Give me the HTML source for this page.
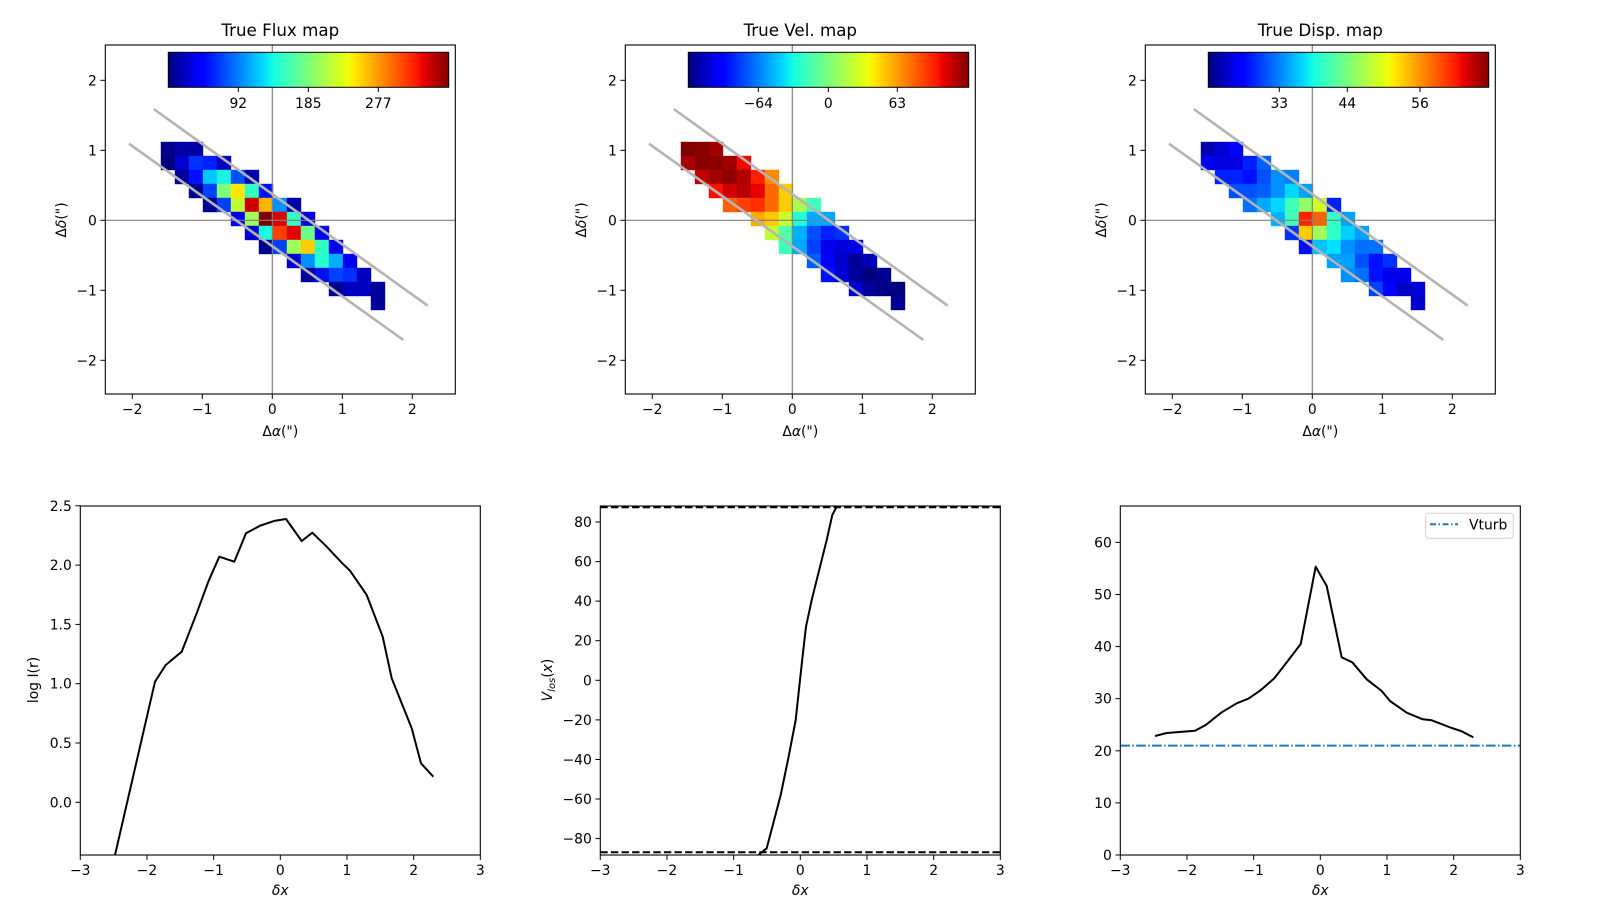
<!DOCTYPE html>
<html><head><meta charset="utf-8">
<style>
html,body{margin:0;padding:0;background:#fff;}
svg{display:block;font-family:"DejaVu Sans","Liberation Sans",sans-serif;}
</style></head>
<body>
<svg id="s" width="1600" height="900" viewBox="0 0 1600 900" xmlns="http://www.w3.org/2000/svg">
<defs>
<linearGradient id="jet" x1="0" x2="1" y1="0" y2="0">
<stop offset="0" stop-color="#00007f"/><stop offset="0.11" stop-color="#0000ff"/><stop offset="0.125" stop-color="#0000ff"/>
<stop offset="0.34" stop-color="#00dbff"/><stop offset="0.375" stop-color="#16ffe1"/><stop offset="0.64" stop-color="#eeff08"/>
<stop offset="0.66" stop-color="#ffec00"/><stop offset="0.89" stop-color="#ff1300"/><stop offset="0.91" stop-color="#e80000"/>
<stop offset="1" stop-color="#800000"/>
</linearGradient>
</defs>
<g id="maps"></g>
<g font-size="16.7" text-anchor="middle" fill="#000">
<text x="280.3" y="36">True Flux map</text>
<text x="800.3" y="36">True Vel. map</text>
<text x="1320.3" y="36">True Disp. map</text>
</g>
<g font-size="13.9" fill="#000" text-anchor="middle">
<text x="238.3" y="108">92</text><text x="308.3" y="108">185</text><text x="378.3" y="108">277</text>
<text x="758.3" y="108">−64</text><text x="828.3" y="108">0</text><text x="897.3" y="108">63</text>
<text x="1279.3" y="108">33</text><text x="1347.3" y="108">44</text><text x="1420" y="108">56</text>
</g>
<g font-size="13.9" fill="#000" text-anchor="middle">
<text x="280.3" y="436">Δ<tspan font-style="italic">α</tspan>(")</text><text x="800.3" y="436">Δ<tspan font-style="italic">α</tspan>(")</text><text x="1320.3" y="436">Δ<tspan font-style="italic">α</tspan>(")</text>
<text transform="translate(66,220) rotate(-90)">Δ<tspan font-style="italic">δ</tspan>(")</text>
<text transform="translate(586,220) rotate(-90)">Δ<tspan font-style="italic">δ</tspan>(")</text>
<text transform="translate(1106,220) rotate(-90)">Δ<tspan font-style="italic">δ</tspan>(")</text>
<text x="280.3" y="895" font-style="italic">δx</text><text x="800.3" y="895" font-style="italic">δx</text><text x="1320.3" y="895" font-style="italic">δx</text>
<text transform="translate(38,680) rotate(-90)">log I(r)</text>
<text transform="translate(552,680) rotate(-90)"><tspan font-style="italic">V</tspan><tspan font-size="10" font-style="italic" dy="3">los</tspan><tspan dy="-3">(</tspan><tspan font-style="italic">x</tspan>)</text>
</g>
<g id="bot"></g>
<g>
<rect x="1425.7" y="513.3" width="87.6" height="25" rx="3" fill="#fff" stroke="#d0d0d0"/>
<line x1="1430" y1="524.3" x2="1458" y2="524.3" stroke="#1f77b4" stroke-width="2" stroke-dasharray="6,2.5,1.5,2.5"/>
<text x="1469" y="529.3" font-size="13.9">Vturb</text>
</g>
</svg>
<script>
(function(){
var NS="http://www.w3.org/2000/svg";
function el(p,t,a){var e=document.createElementNS(NS,t);for(var k in a)e.setAttribute(k,a[k]);p.appendChild(e);return e;}
var maps=document.getElementById('maps');
var rows=[[0,2],[0,4],[1,6],[2,7],[3,9],[5,10],[6,11],[7,12],[9,13],[10,14],[12,15],[15,15]];
var C=[
[["#00008f","#0000a8","#0000a0"],["#00007f","#0000d0","#0030ff","#0020ff","#0000c0"],["#00009a","#0010ff","#00c8ff","#1ef0e0","#0050ff","#0000b0"],["#000090","#0040ff","#7dff7a","#ffe600","#30ffc0","#0010f0"],["#000090","#0040ff","#c0ff36","#cc0000","#ffb400","#0090ff","#0000a8"],["#0000ef","#9cff5a","#800000","#dd0000","#30ffc0","#0000e0"],["#0000d0","#16ffe0","#ff4000","#e80000","#6cff8a","#0000ef"],["#00008f","#0040ff","#9cff5a","#ffcc00","#30ffc0","#0000ef"],["#0000d0","#0090ff","#26ffd0","#00b0ff","#0000ef"],["#00009a","#0010f0","#0040ff","#0030ff","#0000c0"],["#00008f","#0000c0","#0000c0","#00009a"],["#00009a"]],
[["#800000","#880000","#a00000"],["#a80000","#880000","#8c0000","#a00000","#f00800"],["#c00000","#a00000","#900000","#b00000","#ff2000","#ff8c00"],["#ff1000","#d00000","#b80000","#e80000","#ff6a00","#ffd000"],["#ff6000","#ff4000","#ff3000","#ff6a00","#ffcc00","#a8ff50","#40ffb8"],["#ffaa00","#ffc800","#c8ff30","#20ffd8","#00a8ff","#00a8ff"],["#c0ff38","#50ffa8","#00b0ff","#0050ff","#0020ff","#0030ff"],["#40ffb8","#00a8ff","#0040ff","#0000ef","#0000d8","#0000e8"],["#0060ff","#0000ff","#0000c8","#000098","#0000b8"],["#0010ff","#0000d8","#000098","#00007f","#00008f"],["#0000d0","#000098","#000080","#000080"],["#00008f"]],
[["#0000b0","#0000d0","#0000ff"],["#0000f0","#0000e0","#0000e0","#0020ff","#0060ff"],["#0020ff","#0020ff","#0010ff","#0050ff","#0090ff","#0080ff"],["#0050ff","#0050ff","#0060ff","#0090ff","#00d8ff","#00a0ff"],["#0070ff","#00a8ff","#00d8ff","#40ffb8","#90ff68","#d0ff28","#0020f0"],["#00b0ff","#40ffb8","#ff2000","#ff6000","#30ffc8","#00a0ff"],["#0030ff","#ffcc00","#a0ff58","#30ffc8","#00d0ff","#00a0ff"],["#0010f0","#00c0ff","#00e0ff","#0090ff","#0070ff","#0070ff"],["#00a0ff","#00a0ff","#0050ff","#0010ff","#0030ff"],["#0090ff","#0070ff","#0010ff","#0000ef","#0000ef"],["#0040ff","#0000ff","#0000c8","#0000d0"],["#0000cc"]]
];
for(var m=0;m<3;m++){
 var o=520*m, L=105.3+o, T=45, W=350, H=349;
 var g=el(maps,'g',{});
 for(var r=0;r<rows.length;r++){for(var c=rows[r][0];c<=rows[r][1];c++){
  el(g,'rect',{x:161+o+14*(c)-0.2,y:142+14*r-0.2,width:14.4,height:14.4,fill:C[m][r][c-rows[r][0]]});}}
 el(g,'line',{x1:L,x2:L+W,y1:220.3,y2:220.3,stroke:'#808080','stroke-width':1.2});
 el(g,'line',{x1:272.3+o,x2:272.3+o,y1:T,y2:T+H,stroke:'#808080','stroke-width':1.2});
 el(g,'line',{x1:153.7+o,y1:109,x2:427.7+o,y2:305.7,stroke:'#b4b4b4','stroke-width':2.6});
 el(g,'line',{x1:129+o,y1:143.7,x2:403.3+o,y2:340,stroke:'#b4b4b4','stroke-width':2.6});
 el(g,'rect',{x:168.3+o,y:52.3,width:280.4,height:35,fill:'url(#jet)',stroke:'#000','stroke-width':1});
 el(g,'rect',{x:L,y:T,width:W,height:H,fill:'none',stroke:'#000','stroke-width':1.1});
 var cb=[[238.3,308.3,378.3],[758.3,828.3,897.3],[1279.3,1347.3,1420]][m];
 cb.forEach(function(x){el(g,'line',{x1:x,x2:x,y1:87.3,y2:92,stroke:'#000'});});
 for(var k=-2;k<=2;k++){
  var x=272.3+o+70*k, y=220.3-70*k;
  el(g,'line',{x1:x,x2:x,y1:T+H,y2:T+H+4.9,stroke:'#000'});
  el(g,'line',{x1:L-4.9,x2:L,y1:y,y2:y,stroke:'#000'});
  var s=k<0?'−'+(-k):''+k;
  var t=el(g,'text',{x:x,y:T+H+20,'font-size':13.9,'text-anchor':'middle'});t.textContent=s;
  t=el(g,'text',{x:L-8.5,y:y+5,'font-size':13.9,'text-anchor':'end'});t.textContent=s;
 }
}
var bot=document.getElementById('bot');
var yt=[[[2.5,505.8,'2.5'],[2.0,565.1,'2.0'],[1.5,624.4,'1.5'],[1.0,683.7,'1.0'],[0.5,743,'0.5'],[0,802.3,'0.0']],
 [[0,522,'80'],[0,561.6,'60'],[0,601.1,'40'],[0,640.7,'20'],[0,680.3,'0'],[0,719.9,'−20'],[0,759.5,'−40'],[0,799,'−60'],[0,838.6,'−80']],
 [[0,542.4,'60'],[0,594.5,'50'],[0,646.6,'40'],[0,698.7,'30'],[0,750.8,'20'],[0,802.9,'10'],[0,855,'0']]];
var curves=[
 [[285,1065],[405,545],[437,495],[485,455],[530,340],[565,245],[598,170],[643,185],[678,100],[720,77],[765,62],[798,57],[845,123],[877,98],[920,140],[965,188],[990,212],[1040,285],[1088,410],[1115,535],[1175,685],[1203,790],[1240,830]],
 [[655,1065],[680,1045],[700,970],[722,885],[745,775],[767,660],[780,540],[790,450],[798,380],[815,300],[840,200],[860,120],[877,45],[890,20]],
 [[285,708],[320,699],[405,692],[437,675],[485,637],[530,610],[565,596],[600,572],[643,535],[678,490],[722,432],[767,200],[800,258],[845,472],[877,487],[920,538],[965,573],[990,603],[1040,638],[1088,658],[1115,661],[1175,684],[1203,693],[1240,712]]];
for(var p=0;p<3;p++){
 var ox=20+520*p, L=80.3+520*p, T=506, W=400, H=349;
 var g=el(bot,'g',{});
 var cp=el(g,'clipPath',{id:'c'+p});el(cp,'rect',{x:L,y:T,width:W,height:H});
 var pts=curves[p].map(function(q){return (ox+q[0]/3).toFixed(1)+','+(500+q[1]/3).toFixed(1);}).join(' ');
 if(p==1){
  el(g,'line',{x1:L,x2:L+W,y1:507.3,y2:507.3,stroke:'#000','stroke-width':2,'stroke-dasharray':'7.4,3.2'});
  el(g,'line',{x1:L,x2:L+W,y1:852.3,y2:852.3,stroke:'#000','stroke-width':2,'stroke-dasharray':'7.4,3.2'});
 }
 if(p==2){el(g,'line',{x1:L,x2:L+W,y1:745.6,y2:745.6,stroke:'#1f77b4','stroke-width':2,'stroke-dasharray':'9.6,2.4,1.5,2.4'});}
 el(g,'polyline',{points:pts,fill:'none',stroke:'#000','stroke-width':2,'clip-path':'url(#c'+p+')','stroke-linejoin':'round'});
 el(g,'rect',{x:L,y:T,width:W,height:H,fill:'none',stroke:'#000','stroke-width':1.1});
 for(var k=-3;k<=3;k++){
  var x=L+66.67*(k+3);
  el(g,'line',{x1:x,x2:x,y1:T+H,y2:T+H+4.9,stroke:'#000'});
  var t=el(g,'text',{x:x,y:T+H+20,'font-size':13.9,'text-anchor':'middle'});t.textContent=k<0?'−'+(-k):''+k;
 }
 yt[p].forEach(function(q){
  el(g,'line',{x1:L-4.9,x2:L,y1:q[1],y2:q[1],stroke:'#000'});
  var t=el(g,'text',{x:L-8.5,y:q[1]+5,'font-size':13.9,'text-anchor':'end'});t.textContent=q[2];
 });
}
})();
</script>
</body></html>
